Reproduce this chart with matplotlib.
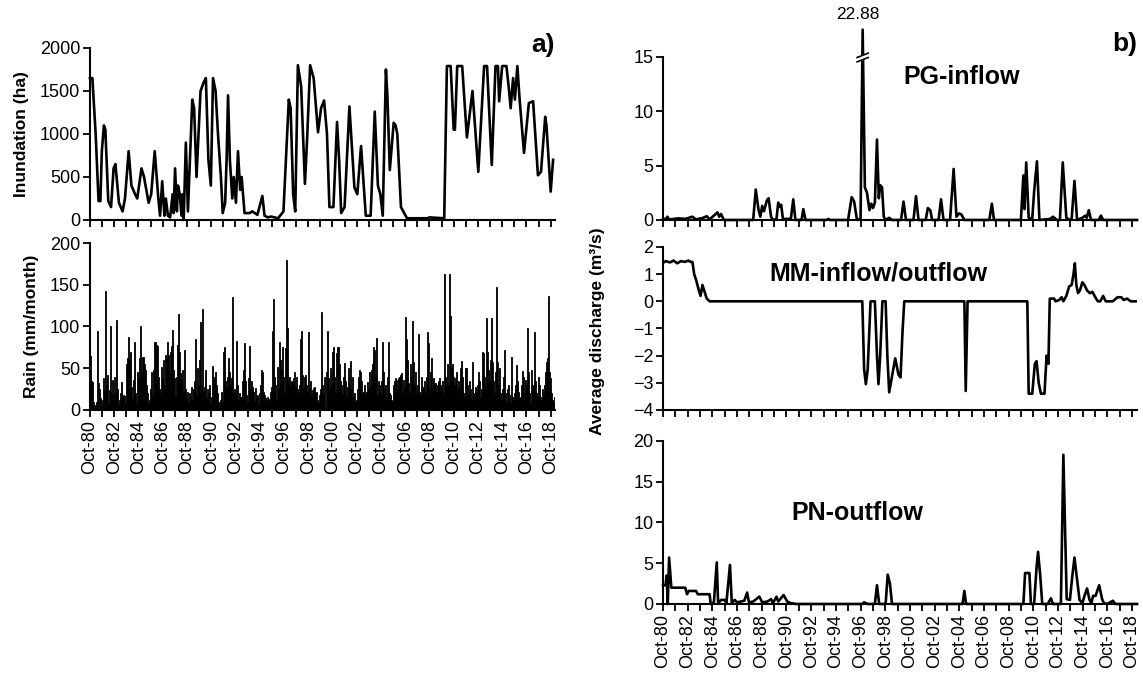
import matplotlib.pyplot as plt
import numpy as np

plt.rcParams['font.family'] = ['Liberation Sans', 'DejaVu Sans']

# ---- data (decimal years, Oct-80 = 1980.75) ----
inund_t = [1980.75, 1980.95, 1981.22, 1981.46, 1981.61, 1981.73, 1981.90, 1982.02, 1982.26, 1982.49,
           1982.70, 1982.85, 1983.14, 1983.44, 1983.64, 1983.94, 1984.17, 1984.47, 1984.65, 1985.00,
           1985.21, 1985.59, 1985.80, 1986.09, 1986.39, 1986.53, 1986.71, 1986.89, 1987.01, 1987.18,
           1987.36, 1987.57, 1987.65, 1987.77, 1987.92, 1988.01, 1988.16, 1988.30, 1988.39, 1988.48,
           1988.66, 1988.83, 1989.19, 1989.34, 1989.54, 1989.87, 1990.13, 1990.31, 1990.52, 1990.72,
           1990.90, 1991.11, 1991.31, 1991.55, 1991.70, 1991.90, 1992.02, 1992.14, 1992.29, 1992.49,
           1992.61, 1992.79, 1992.96, 1993.14, 1993.26, 1993.50, 1993.91, 1994.14, 1994.56, 1994.97,
           1995.15, 1995.44, 1995.68, 1996.27, 1996.71, 1997.15, 1997.30, 1997.51, 1997.68, 1997.90,
           1998.17, 1998.48, 1998.66, 1998.91, 1999.20, 1999.56, 1999.81, 2000.06, 2000.30, 2000.50,
           2000.83, 2001.13, 2001.30, 2001.47, 2001.75, 2002.15, 2002.56, 2002.80, 2003.11, 2003.50,
           2003.90, 2004.24, 2004.50, 2004.70, 2004.90, 2005.16, 2005.28, 2005.48, 2005.80, 2005.96,
           2006.10, 2006.40, 2006.90, 2008.60, 2008.75, 2009.97, 2010.19, 2010.50, 2010.75, 2010.85,
           2011.04, 2011.45, 2011.84, 2012.30, 2012.78, 2013.26, 2013.50, 2013.89, 2014.20, 2014.40,
           2014.50, 2014.75, 2015.10, 2015.30, 2015.45, 2015.65, 2015.80, 2016.00, 2016.20, 2016.55,
           2016.95, 2017.30, 2017.70, 2017.95, 2018.30, 2018.40, 2018.75, 2018.95]
inund_v = [1650, 1650, 1000, 220, 220, 800, 1100, 1050, 220, 150,
           600, 650, 200, 100, 250, 800, 400, 300, 250, 600,
           500, 200, 300, 800, 250, 50, 450, 50, 250, 50,
           30, 300, 80, 600, 100, 400, 300, 50, 300, 0,
           900, 100, 1400, 1300, 500, 1500, 1600, 1650, 700, 400,
           1650, 1500, 1000, 500, 80, 200, 700, 1450, 700, 250,
           500, 200, 800, 350, 500, 80, 80, 100, 60, 280,
           50, 30, 40, 20, 100, 1400, 1300, 300, 100, 1800,
           1550, 420, 940, 1800, 1650, 1020, 1300, 1390, 1000, 150,
           150, 1140, 700, 80, 150, 1320, 380, 300, 860, 50,
           50, 1260, 400, 300, 50, 1750, 1450, 580, 1130, 1100,
           1000, 150, 20, 20, 30, 20, 1790, 1790, 1050, 1050,
           1790, 1790, 960, 1500, 560, 1790, 1790, 640, 1790, 1790,
           1380, 1790, 1790, 1530, 1300, 1650, 1400, 1790, 1380, 780,
           1360, 1380, 520, 560, 1200, 1100, 330, 700]

# monthly rain, Oct-80 onwards, one row per water year (Oct..Sep)
rain = [65, 35, 34, 10, 4, 6, 10, 95, 32, 25, 14, 6,
        12, 38, 24, 143, 30, 42, 8, 24, 100, 20, 36, 18,
        40, 22, 108, 25, 6, 12, 20, 33, 16, 18, 17, 8,
        55, 62, 87, 60, 70, 28, 14, 36, 82, 20, 8, 45,
        38, 62, 100, 45, 63, 55, 48, 30, 20, 8, 12, 25,
        45, 18, 48, 82, 82, 78, 77, 40, 25, 20, 52, 38,
        60, 30, 66, 62, 82, 66, 44, 70, 77, 96, 48, 38,
        15, 40, 78, 115, 70, 44, 36, 48, 22, 72, 25, 14,
        22, 10, 20, 16, 28, 12, 25, 35, 85, 18, 50, 30,
        60, 105, 30, 121, 22, 28, 48, 14, 25, 20, 30, 8,
        15, 53, 36, 40, 45, 30, 20, 10, 8, 12, 22, 9,
        70, 75, 35, 28, 40, 62, 45, 30, 38, 135, 20, 25,
        22, 83, 30, 12, 20, 15, 35, 48, 80, 35, 18, 10,
        38, 77, 25, 35, 28, 22, 10, 26, 14, 18, 6, 20,
        30, 48, 45, 22, 18, 14, 12, 16, 13, 11, 22, 28,
        95, 133, 40, 30, 12, 52, 25, 82, 60, 48, 75, 40,
        20, 74, 180, 98, 35, 40, 30, 35, 32, 38, 45, 28,
        40, 25, 20, 30, 85, 95, 42, 25, 40, 42, 30, 22,
        93, 26, 35, 18, 24, 26, 28, 20, 22, 12, 8, 18,
        25, 117, 30, 20, 40, 3, 45, 95, 38, 25, 50, 30,
        70, 75, 40, 20, 68, 76, 55, 35, 30, 18, 40, 56,
        35, 15, 28, 50, 30, 59, 25, 40, 15, 20, 10, 12,
        25, 40, 48, 45, 35, 20, 22, 30, 18, 22, 34, 25,
        45, 30, 48, 55, 75, 72, 40, 86, 18, 35, 30, 20,
        35, 81, 45, 25, 30, 15, 40, 81, 20, 18, 12, 10,
        30, 35, 38, 36, 25, 38, 40, 42, 44, 20, 36, 28,
        111, 85, 60, 32, 20, 55, 40, 106, 58, 30, 45, 20,
        30, 91, 22, 18, 40, 28, 25, 35, 20, 40, 93, 80,
        25, 45, 62, 28, 38, 32, 22, 30, 35, 38, 30, 26,
        35, 20, 163, 40, 30, 55, 30, 163, 113, 50, 55, 40,
        30, 38, 45, 25, 35, 28, 50, 59, 40, 20, 15, 50,
        50, 30, 18, 35, 25, 12, 57, 20, 15, 28, 22, 30,
        45, 35, 15, 25, 70, 68, 40, 30, 110, 70, 48, 35,
        60, 110, 58, 35, 20, 45, 147, 58, 30, 50, 20, 12,
        25, 40, 72, 20, 10, 25, 30, 18, 8, 64, 15, 12,
        20, 30, 54, 35, 22, 14, 16, 30, 47, 40, 20, 36,
        30, 98, 45, 20, 8, 48, 30, 93, 35, 20, 15, 40,
        30, 15, 12, 25, 20, 30, 45, 58, 62, 137, 45, 38,
        20, 12, 8, 15, 72]

pg_t = [1980.75, 1981.00, 1981.10, 1981.25, 1982.00, 1982.55, 1983.13, 1983.42, 1984.00, 1984.29,
        1984.52, 1985.16, 1985.30, 1985.45, 1985.68, 1988.05, 1988.26, 1988.49, 1988.63, 1988.78,
        1988.92, 1989.16, 1989.30, 1989.50, 1989.65, 1989.94, 1990.08, 1990.23, 1990.32, 1990.46,
        1991.10, 1991.30, 1991.47, 1991.97, 1992.11, 1992.29, 1994.00, 1994.14, 1994.29, 1995.74,
        1996.03, 1996.23, 1996.46, 1996.75, 1996.92, 1997.10, 1997.27, 1997.47, 1997.62, 1997.76,
        1997.91, 1998.08, 1998.23, 1998.34, 1998.49, 1998.63, 1998.78, 1999.07, 1999.30, 2000.03,
        2000.23, 2000.43, 2001.04, 2001.24, 2001.45, 2002.03, 2002.20, 2002.40, 2002.55, 2003.07,
        2003.27, 2003.47, 2004.00, 2004.29, 2004.52, 2004.72, 2004.92, 2005.16, 2007.18, 2007.39,
        2007.56, 2009.74, 2009.94, 2010.03, 2010.17, 2010.37, 2010.66, 2010.81, 2011.04, 2011.24,
        2012.11, 2012.34, 2012.65, 2012.90, 2013.13, 2013.42, 2013.71, 2013.85, 2014.08, 2014.29,
        2014.72, 2014.95, 2015.07, 2015.24, 2015.42, 2016.03, 2016.23, 2016.40, 2019.15]
pg_v = [0.1, 0.1, 0.3, 0.05, 0.15, 0.1, 0.3, 0.05, 0.2, 0.35,
        0.05, 0.7, 0.3, 0.55, 0.0, 0.0, 2.8, 0.9, 0.3, 1.3,
        0.8, 1.8, 2.0, 0.3, 0.0, 0.1, 1.6, 1.2, 1.4, 0.1,
        0.1, 1.9, 0.0, 0.0, 1.0, 0.0, 0.0, 0.1, 0.0, 0.0,
        2.1, 1.7, 0.0, 0.1, 22.88, 3.0, 2.5, 0.9, 1.5, 1.1,
        1.6, 7.4, 2.0, 3.2, 3.0, 0.3, 0.0, 0.2, 0.0, 0.0,
        1.7, 0.0, 0.0, 2.2, 0.0, 0.0, 1.1, 0.9, 0.0, 0.0,
        1.9, 0.0, 0.0, 4.7, 0.3, 0.6, 0.5, 0.0, 0.0, 1.5,
        0.0, 0.0, 4.1, 1.0, 5.3, 0.2, 0.1, 2.6, 5.4, 0.0,
        0.1, 0.3, 0.0, 0.0, 5.3, 0.2, 0.0, 0.1, 3.6, 0.0,
        0.2, 0.4, 0.2, 0.9, 0.0, 0.0, 0.4, 0.0, 0.0]

mm_t = [1980.75, 1980.98, 1981.30, 1981.60, 1981.90, 1982.20, 1982.50, 1982.80, 1982.98, 1983.13,
        1983.27, 1983.42, 1983.65, 1983.79, 1983.94, 1984.08, 1984.29, 1984.52, 1996.89, 1997.04,
        1997.18, 1997.33, 1997.56, 1997.91, 1998.08, 1998.20, 1998.34, 1998.52, 1998.78, 1998.92,
        1999.07, 1999.36, 1999.56, 1999.82, 1999.99, 2000.14, 2000.29, 2005.16, 2005.27, 2005.42,
        2010.26, 2010.37, 2010.66, 2010.87, 2011.01, 2011.18, 2011.36, 2011.65, 2011.82, 2011.97,
        2012.08, 2012.43, 2012.55, 2012.84, 2013.04, 2013.18, 2013.42, 2013.65, 2013.85, 2014.00,
        2014.11, 2014.23, 2014.37, 2014.52, 2014.72, 2014.89, 2015.10, 2015.33, 2015.53, 2015.77,
        2015.97, 2016.17, 2016.40, 2016.61, 2017.19, 2017.56, 2017.88, 2018.06, 2018.35, 2018.63,
        2018.78, 2019.15]
mm_v = [1.42, 1.48, 1.43, 1.50, 1.40, 1.48, 1.45, 1.50, 1.45, 1.45,
        1.0, 0.8, 0.4, 0.2, 0.6, 0.4, 0.1, 0.0, 0.0, -2.5,
        -3.05, -2.5, 0.0, 0.0, -2.0, -3.05, -2.0, 0.0, 0.0, -2.0,
        -3.35, -2.6, -2.1, -2.7, -2.8, -1.2, 0.0, 0.0, -3.3, 0.0,
        0.0, -3.4, -3.4, -2.3, -2.2, -3.0, -3.4, -3.4, -2.0, -2.3,
        0.1, 0.1, 0.0, 0.05, 0.15, 0.0, 0.2, 0.55, 0.6, 1.0,
        1.4, 0.6, 0.3, 0.4, 0.7, 0.6, 0.4, 0.3, 0.35, 0.15,
        0.0, 0.0, 0.2, 0.0, 0.0, 0.15, 0.15, 0.05, 0.1, 0.0,
        0.0, 0.0]

pn_t = [1980.75, 1980.95, 1981.04, 1981.13, 1981.24, 1981.42, 1982.55, 1982.69, 1982.84, 1983.42,
        1983.56, 1984.52, 1984.61, 1984.87, 1985.10, 1985.21, 1985.45, 1985.74, 1985.88, 1986.17,
        1986.32, 1986.55, 1986.75, 1987.04, 1987.33, 1987.56, 1987.71, 1988.05, 1988.55, 1988.78,
        1989.21, 1989.50, 1989.65, 1989.94, 1990.08, 1990.52, 1990.81, 1991.10, 1991.53, 1996.89,
        1997.04, 1997.33, 1997.91, 1998.08, 1998.26, 1998.78, 1998.95, 1999.13, 1999.30, 2005.01,
        2005.16, 2005.30, 2009.94, 2010.08, 2010.43, 2010.55, 2010.81, 2011.01, 2011.13, 2011.30,
        2011.47, 2011.91, 2012.17, 2012.34, 2012.98, 2013.18, 2013.45, 2013.71, 2013.91, 2014.08,
        2014.29, 2014.49, 2014.72, 2014.89, 2015.10, 2015.30, 2015.45, 2015.59, 2015.79, 2016.08,
        2016.32, 2016.46, 2016.75, 2017.19, 2017.39, 2019.15]
pn_v = [2.3, 2.3, 3.5, 0.0, 5.7, 2.0, 2.0, 1.2, 1.6, 1.6,
        1.2, 1.2, 0.0, 0.2, 5.1, 0.1, 0.5, 0.5, 0.1, 4.8,
        0.1, 0.5, 0.2, 0.3, 0.4, 1.4, 0.2, 0.3, 0.9, 0.2,
        0.3, 0.6, 0.1, 0.9, 0.3, 1.1, 0.3, 0.1, 0.0, 0.0,
        0.2, 0.0, 0.0, 2.3, 0.0, 0.0, 3.6, 2.5, 0.0, 0.0,
        1.6, 0.0, 0.0, 3.8, 3.8, 0.0, 0.0, 4.5, 6.4, 3.6,
        0.0, 0.0, 0.7, 0.0, 0.0, 18.3, 0.6, 0.5, 3.5, 5.7,
        3.0, 0.5, 0.1, 1.0, 1.9, 0.5, 0.1, 1.0, 1.0, 2.3,
        0.6, 0.1, 0.0, 0.4, 0.0, 0.0]

START = 1980.75
n_years = 38
FS = 13
LW = 1.9


def pg_scale(v):
    # broken axis above 15: the extreme peak is squeezed
    v = np.asarray(v, dtype=float)
    return np.where(v > 15, 15 + (v - 15) * 0.32, v)


def style(ax, xmax, labels):
    ax.set_xlim(START, xmax)
    ticks = START + np.arange(n_years + 1)
    ax.set_xticks(ticks)
    if labels:
        ax.set_xticklabels(['Oct-%02d' % ((80 + k) % 100) if k % 2 == 0 else '' for k in range(n_years + 1)],
                           rotation=90)
    else:
        ax.set_xticklabels([])
    for s in ['top', 'right']:
        ax.spines[s].set_visible(False)
    for s in ['left', 'bottom']:
        ax.spines[s].set_linewidth(1.5)
    ax.tick_params(direction='out', length=5, width=1.3, labelsize=FS, pad=2)


fig = plt.figure(figsize=(11.43, 6.75), dpi=100)

# ---- a) ----
ax1 = fig.add_axes([0.0787, 0.6741, 0.4068, 0.2548])
ax1.plot(inund_t, inund_v, color='black', lw=LW, clip_on=False, solid_joinstyle='round')
ax1.set_ylim(0, 2000)
ax1.set_yticks([0, 500, 1000, 1500, 2000])
style(ax1, 2019.1, False)
ax1.set_ylabel('Inundation (ha)', fontsize=12.5, fontweight='bold', labelpad=8)
ax1.text(1.0, 1.02, 'a)', transform=ax1.transAxes, ha='right', va='center', fontsize=19, fontweight='bold')

ax2 = fig.add_axes([0.0787, 0.3926, 0.4068, 0.2474])
months = START + np.arange(len(rain)) / 12.0
ax2.bar(months, rain, width=1 / 12.0, align='edge', color='black', edgecolor='black', linewidth=0.6)
ax2.set_ylim(0, 200)
ax2.set_yticks([0, 50, 100, 150, 200])
style(ax2, 2019.1, True)
ax2.set_ylabel('Rain (mm/month)', fontsize=12.5, fontweight='bold', labelpad=8)

# ---- b) ----
ax3 = fig.add_axes([0.5801, 0.6741, 0.4147, 0.2415])
ax3.plot(pg_t, pg_scale(pg_v), color='black', lw=LW, clip_on=False, solid_joinstyle='round')
ax3.set_ylim(0, 15)
ax3.set_yticks([0, 5, 10, 15])
style(ax3, 2019.15, False)
peak_i = int(np.argmax(pg_v))
px = pg_t[peak_i]
# break mark on the peak
ax3.fill([px - 0.45, px + 0.45, px + 0.45, px - 0.45], [14.55, 14.95, 15.35, 14.95],
         color='white', clip_on=False, zorder=5)
for dy in (-0.2, 0.2):
    ax3.plot([px - 0.45, px + 0.45], [14.75 + dy, 15.15 + dy], color='black', lw=1.2,
             clip_on=False, zorder=6)
ax3.text(px - 0.4, float(pg_scale([pg_v[peak_i]])[0]) + 0.7, '%.2f' % pg_v[peak_i], ha='center',
         va='bottom', fontsize=12.5)
ax3.text(0.63, 0.88, 'PG-inflow', transform=ax3.transAxes, ha='center', va='center',
         fontsize=18, fontweight='bold')
fig.text(0.995, 0.935, 'b)', ha='right', va='center', fontsize=19, fontweight='bold')

ax4 = fig.add_axes([0.5801, 0.3926, 0.4147, 0.2415])
ax4.plot(mm_t, mm_v, color='black', lw=LW, solid_joinstyle='round')
ax4.set_ylim(-4, 2)
ax4.set_yticks([-4, -3, -2, -1, 0, 1, 2])
style(ax4, 2019.15, False)
ax4.text(0.455, 0.835, 'MM-inflow/outflow', transform=ax4.transAxes, ha='center', va='center',
         fontsize=18, fontweight='bold')

ax5 = fig.add_axes([0.5801, 0.1052, 0.4147, 0.2415])
ax5.plot(pn_t, pn_v, color='black', lw=LW, clip_on=False, solid_joinstyle='round')
ax5.set_ylim(0, 20)
ax5.set_yticks([0, 5, 10, 15, 20])
style(ax5, 2019.15, True)
ax5.text(0.41, 0.56, 'PN-outflow', transform=ax5.transAxes, ha='center', va='center',
         fontsize=18, fontweight='bold')

fig.text(0.523, 0.51, 'Average discharge (m³/s)', rotation=90, ha='center', va='center',
         fontsize=12.5, fontweight='bold')

plt.savefig('out.png', dpi=100)
